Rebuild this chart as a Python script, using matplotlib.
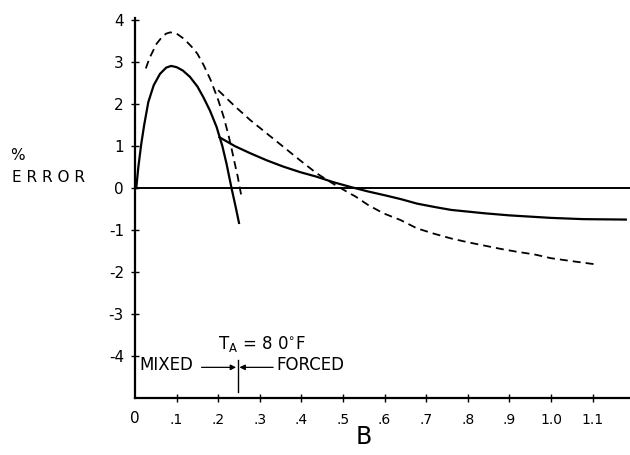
import matplotlib
matplotlib.use("Agg")
import matplotlib.pyplot as plt

# ---- data ----
mixed_solid_B = [0.003, 0.008, 0.015, 0.022, 0.032, 0.045, 0.06, 0.075, 0.087, 0.10,
                 0.115, 0.132, 0.15, 0.164, 0.18, 0.196, 0.21, 0.22, 0.232, 0.242, 0.25]
mixed_solid_err = [0.0, 0.5, 1.05, 1.5, 2.05, 2.45, 2.72, 2.87, 2.91, 2.88,
                   2.8, 2.65, 2.42, 2.17, 1.85, 1.46, 1.0, 0.58, 0.0, -0.45, -0.83]

mixed_dash_B = [0.026, 0.035, 0.045, 0.052, 0.065, 0.075, 0.085, 0.1, 0.117, 0.135, 0.15,
                0.165, 0.182, 0.2, 0.213, 0.225, 0.233, 0.24, 0.247, 0.252, 0.257]
mixed_dash_err = [2.85, 3.1, 3.3, 3.44, 3.6, 3.68, 3.71, 3.68, 3.56, 3.38, 3.2,
                  2.93, 2.57, 2.1, 1.7, 1.25, 0.9, 0.58, 0.27, 0.0, -0.25]

forced_solid_B = [0.203, 0.24, 0.277, 0.317, 0.357, 0.397, 0.437, 0.477, 0.517, 0.56, 0.6,
                  0.638, 0.678, 0.72, 0.76, 0.8, 0.84, 0.9, 0.95, 1.0, 1.078, 1.18]
forced_solid_err = [1.21, 1.0, 0.83, 0.66, 0.51, 0.38, 0.27, 0.14, 0.03, -0.08, -0.17,
                    -0.26, -0.37, -0.45, -0.52, -0.56, -0.6, -0.65, -0.68, -0.71, -0.74, -0.75]

forced_dash_B = [0.2, 0.24, 0.277, 0.317, 0.357, 0.397, 0.437, 0.477, 0.517, 0.53, 0.56,
                 0.597, 0.638, 0.678, 0.72, 0.76, 0.8, 0.84, 0.88, 0.92, 0.96, 1.0, 1.05, 1.11]
forced_dash_err = [2.33, 1.95, 1.62, 1.3, 0.98, 0.66, 0.35, 0.1, -0.13, -0.2, -0.4,
                   -0.6, -0.76, -0.96, -1.09, -1.2, -1.29, -1.37, -1.45, -1.52, -1.58, -1.67, -1.74, -1.82]

zero_B = [0.0, 1.19]
zero_err = [0.0, 0.0]

x_ticks = [0.1, 0.2, 0.3, 0.4, 0.5, 0.6, 0.7, 0.8, 0.9, 1.0, 1.1]
x_tick_labels = [".1", ".2", ".3", ".4", ".5", ".6", ".7", ".8", ".9", "1.0", "1.1"]
y_ticks = [4, 3, 2, 1, 0, -1, -2, -3, -4]
y_tick_labels = ["4", "3", "2", "1", "0", "-1", "-2", "-3", "-4"]

transition_B = 0.247

# ---- figure ----
fig = plt.figure(figsize=(6.3, 4.55), dpi=100)
ax = fig.add_axes([0.2143, 0.1253, 0.7857, 0.835])
ax.set_xlim(0, 1.19)
ax.set_ylim(-5.0, 4.05)

for s in ["top", "right"]:
    ax.spines[s].set_visible(False)
for s in ["left", "bottom"]:
    ax.spines[s].set_linewidth(1.6)
    ax.spines[s].set_color("black")

dash = (0, (4.4, 2.8))
ax.plot(zero_B, zero_err, color="black", lw=1.4, solid_capstyle="butt")
ax.plot(mixed_solid_B, mixed_solid_err, color="black", lw=1.6)
ax.plot(forced_solid_B, forced_solid_err, color="black", lw=1.6)
ax.plot(mixed_dash_B, mixed_dash_err, color="black", lw=1.3, linestyle=dash)
ax.plot(forced_dash_B, forced_dash_err, color="black", lw=1.3, linestyle=dash)

ax.set_xticks(x_ticks)
ax.set_xticklabels(x_tick_labels)
ax.set_yticks(y_ticks)
ax.set_yticklabels(y_tick_labels)
ax.tick_params(axis="both", direction="inout", length=6, width=1.0, colors="black")
ax.tick_params(axis="x", labelsize=10, pad=8)
ax.tick_params(axis="y", labelsize=11, pad=5)

# zero label at origin (same row as x tick labels)
ax.text(0, -5.48, "0", ha="center", va="center", fontsize=11, color="black")

# axis labels
ax.text(0.55, -5.94, "B", ha="center", va="center", fontsize=17)
fig.text(10 / 630, 1 - 155 / 455, "%", ha="left", va="center", fontsize=11)
fig.text(12 / 630, 1 - 177 / 455, "E R R O R", ha="left", va="center", fontsize=11)

# transition annotation
ax.plot([transition_B, transition_B], [-4.1, -4.86], color="black", lw=1.0)
ax.annotate("", xy=(transition_B - 0.004, -4.27), xytext=(0.16, -4.27),
            arrowprops=dict(arrowstyle="-|>", color="black", lw=0.9,
                            mutation_scale=8, shrinkA=0, shrinkB=0))
ax.annotate("", xy=(transition_B + 0.004, -4.27), xytext=(0.332, -4.27),
            arrowprops=dict(arrowstyle="-|>", color="black", lw=0.9,
                            mutation_scale=8, shrinkA=0, shrinkB=0))
ax.text(0.01, -4.22, "MIXED", ha="left", va="center", fontsize=12)
ax.text(0.34, -4.22, "FORCED", ha="left", va="center", fontsize=12)
ax.text(0.2, -3.72, r"T$_{\mathregular{A}}$ = 8 0$^{\circ}$F", ha="left",
        va="center", fontsize=12)

fig.savefig("out.png", dpi=100)
